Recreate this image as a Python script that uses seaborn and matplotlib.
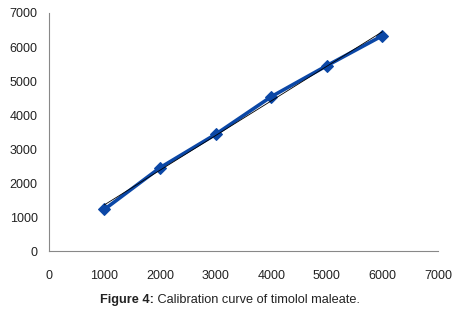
import numpy as np
import pandas as pd
import seaborn as sns
import matplotlib
matplotlib.use("Agg")
import matplotlib.pyplot as plt

concentration = [1000, 2000, 3000, 4000, 5000, 6000]
response = [1225, 2450, 3432, 4538, 5450, 6332]
x_ticks = [0, 1000, 2000, 3000, 4000, 5000, 6000, 7000]
y_ticks = [0, 1000, 2000, 3000, 4000, 5000, 6000, 7000]
caption_bold = "Figure 4:"
caption_rest = " Calibration curve of timolol maleate."

df = pd.DataFrame({"conc": concentration, "resp": response})

sns.set_style("white")
plt.rcParams["font.family"] = ["Liberation Sans", "DejaVu Sans"]

fig = plt.figure(figsize=(4.61, 3.14), dpi=100)
ax = fig.add_axes([0.106, 0.2006, 0.844, 0.758])

sns.lineplot(data=df, x="conc", y="resp", ax=ax, color="#0b47a6", lw=2.6,
             marker="D", markersize=6, markeredgecolor="#0b47a6", zorder=2)

# linear trendline
slope, intercept = np.polyfit(df["conc"], df["resp"], 1)
xs = np.array([min(concentration), max(concentration)])
ax.plot(xs, slope * xs + intercept, color="black", lw=0.6, zorder=3)

ax.set_xlim(0, 7000)
ax.set_ylim(0, 7000)
ax.set_xticks(x_ticks)
ax.set_yticks(y_ticks)
ax.set_xticklabels([str(v) for v in x_ticks])
ax.set_yticklabels([str(v) for v in y_ticks])
ax.set_xlabel("")
ax.set_ylabel("")
for s in ["top", "right"]:
    ax.spines[s].set_visible(False)
for s in ["left", "bottom"]:
    ax.spines[s].set_color("#888888")
    ax.spines[s].set_linewidth(0.8)
ax.tick_params(axis="both", which="both", length=4, width=0.8, color="#888888",
               labelsize=9, labelcolor="#222222", direction="out")
ax.tick_params(axis="x", pad=10)
ax.tick_params(axis="y", pad=4)

t1 = fig.text(100 / 461, 1 - 300 / 314, caption_bold, fontsize=9.2,
              fontweight="bold", color="#222222", va="center", ha="left")
ax.annotate(caption_rest, xy=(1, 0.5), xycoords=t1, va="center", ha="left",
            fontsize=9.2, color="#222222", annotation_clip=False)

fig.savefig("out.png", dpi=100)
